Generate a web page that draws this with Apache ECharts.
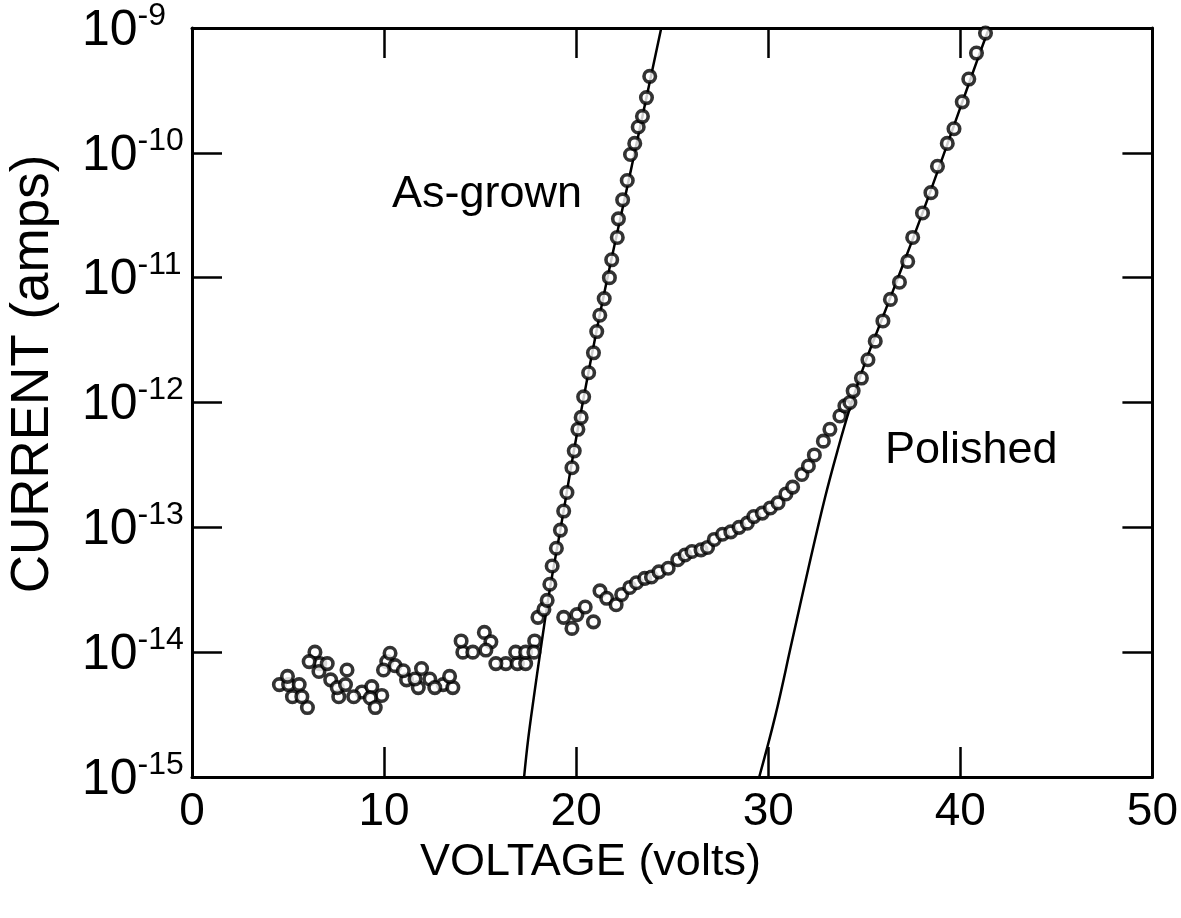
<!DOCTYPE html>
<html>
<head>
<meta charset="utf-8">
<script src="https://cdn.jsdelivr.net/npm/echarts@6/dist/echarts.min.js"></script>
<style>html,body{margin:0;padding:0;background:#fff;}#chart{width:1181px;height:918px;}</style>
</head>
<body>
<div id="chart"></div>
<script>
// ---------- data ----------
const xTicks = [0, 10, 20, 30, 40, 50];
const yTickExponents = ['-15', '-14', '-13', '-12', '-11', '-10', '-9'];

const asGrownV = [4.55, 5.03, 5.58, 6.01, 6.40, 6.65, 7.22, 7.64, 8.07, 8.85, 9.36, 9.88, 10.14, 10.57, 11.17, 11.78, 12.38, 13.07, 13.58, 14.10, 15.22, 15.56, 16.34, 16.94, 17.37, 17.84,
  18.01, 18.32, 18.49, 18.63, 18.75, 18.97, 19.18, 19.35, 19.52, 19.78, 19.90, 20.09, 20.26, 20.39, 20.65, 20.90, 21.07, 21.23, 21.46, 21.73, 21.85, 22.14, 22.20, 22.42, 22.66, 22.83, 23.05, 23.23, 23.45, 23.66, 23.83];
const asGrownI = [5.5e-15, 5.5e-15, 5.5e-15, 3.6e-15, 1.0e-14, 8.1e-15, 6.0e-15, 4.4e-15, 7.2e-15, 4.8e-15, 5.3e-15, 4.5e-15, 8.4e-15, 7.8e-15, 6.0e-15, 5.2e-15, 6.1e-15, 5.5e-15, 5.2e-15, 1.0e-14, 1.44e-14, 1.21e-14, 8.1e-15, 8.1e-15, 8.1e-15, 1.23e-14,
  1.9e-14, 2.2e-14, 2.6e-14, 3.5e-14, 4.9e-14, 6.8e-14, 9.5e-14, 1.35e-13, 1.9e-13, 3.0e-13, 4.1e-13, 6.1e-13, 7.6e-13, 1.11e-12, 1.73e-12, 2.5e-12, 3.7e-12, 5.0e-12, 6.8e-12, 1.0e-11, 1.39e-11, 2.1e-11, 2.96e-11, 4.2e-11, 6.0e-11, 9.7e-11, 1.19e-10, 1.61e-10, 1.96e-10, 2.77e-10, 4.1e-10];

const polishedV = [4.97, 5.23, 5.72, 6.10, 6.61, 7.04, 7.56, 7.99, 8.42, 9.28, 9.54, 9.97, 10.31, 11.00, 11.61, 11.95, 12.64, 13.41, 14.01, 14.62, 15.30, 15.82, 16.85, 17.37, 17.80,
  19.35, 19.78, 20.04, 20.47, 20.90, 21.24, 21.59, 22.08, 22.37, 22.79, 23.14, 23.57, 23.92, 24.31, 24.79, 25.29, 25.67, 26.03, 26.50, 26.84, 27.19, 27.62, 28.05, 28.48, 28.91, 29.25, 29.69, 30.11, 30.51, 30.92, 31.27, 31.75, 32.09, 32.40, 32.87, 33.21, 33.73, 33.99, 34.25, 34.42, 34.85, 35.19, 35.57, 35.97, 36.36, 36.83, 37.26, 37.52, 38.03, 38.47, 38.81, 39.32, 39.67, 40.10, 40.44, 40.84, 41.31];
const polishedI = [6.4e-15, 4.4e-15, 4.4e-15, 8.4e-15, 7.0e-15, 8.1e-15, 5.2e-15, 5.5e-15, 4.4e-15, 4.3e-15, 3.6e-15, 7.2e-15, 9.8e-15, 7.1e-15, 6.1e-15, 7.4e-15, 5.2e-15, 6.4e-15, 1.23e-14, 1.0e-14, 1.04e-14, 8.1e-15, 1.0e-14, 1.0e-14, 1.0e-14,
  1.9e-14, 1.55e-14, 2.0e-14, 2.3e-14, 1.75e-14, 3.1e-14, 2.7e-14, 2.4e-14, 2.9e-14, 3.3e-14, 3.6e-14, 3.9e-14, 4.0e-14, 4.4e-14, 4.7e-14, 5.5e-14, 6.0e-14, 6.4e-14, 6.6e-14, 6.9e-14, 8.0e-14, 8.8e-14, 9.2e-14, 1.0e-13, 1.08e-13, 1.22e-13, 1.30e-13, 1.43e-13, 1.57e-13, 1.85e-13, 2.1e-13, 2.65e-13, 3.1e-13, 3.8e-13, 4.9e-13, 6.1e-13, 7.8e-13, 9.4e-13, 1.0e-12, 1.24e-12, 1.57e-12, 2.2e-12, 3.1e-12, 4.5e-12, 6.7e-12, 9.2e-12, 1.35e-11, 2.1e-11, 3.3e-11, 4.8e-11, 7.8e-11, 1.19e-10, 1.56e-10, 2.56e-10, 3.9e-10, 6.3e-10, 9.1e-10];

const asGrownFitV = [17.29, 17.50, 17.80, 18.15, 18.60, 19.20, 20.04, 21.33, 22.90, 24.43];
const asGrownFitI = [1e-15, 2.0e-15, 4.4e-15, 1.05e-14, 3.0e-14, 1.0e-13, 5.6e-13, 6.0e-12, 7.9e-11, 1e-9];

const polishedFitV = [29.53, 30.37, 31.23, 32.09, 32.95, 33.64, 34.25, 35.00, 36.00, 37.00, 38.00, 39.00, 40.00, 41.00, 41.50];
const polishedFitI = [1e-15, 3.1e-15, 1.21e-14, 4.7e-14, 1.72e-13, 4.3e-13, 9.0e-13, 2.0e-12, 5.0e-12, 1.25e-11, 3.2e-11, 8.5e-11, 2.3e-10, 6.2e-10, 1e-9];

const labels = { asGrown: 'As-grown', polished: 'Polished', xTitle: 'VOLTAGE (volts)', yTitle: 'CURRENT (amps)' };

// ---------- chart ----------
const zip = (a, b) => a.map((v, i) => [v, b[i]]);
const FONT = '"Liberation Sans", Arial, Helvetica, sans-serif';
const chart = echarts.init(document.getElementById('chart'), null, { renderer: 'canvas' });

const expOf = v => Math.round(Math.log10(v));
const yLabelFormatter = v => {
  const e = String(expOf(v));
  const idx = yTickExponents.indexOf(e);
  return idx >= 0 ? '{b|10}{s|' + yTickExponents[idx] + '}' : '';
};

const axisLineStyle = { color: '#000', width: 3 };
const tickStyle = { show: true, inside: true, length: 30, lineStyle: { color: '#000', width: 2.5 } };

const markerStyle = { color: '#fff', borderColor: '#000', borderWidth: 3.6 };

chart.setOption({
  animation: false,
  backgroundColor: '#fff',
  grid: { left: 192, right: 23, top: 26, bottom: 141, containLabel: false },
  xAxis: [
    {
      type: 'value', min: 0, max: 50, interval: 10, position: 'bottom',
      axisLine: { show: true, lineStyle: axisLineStyle },
      axisTick: tickStyle,
      splitLine: { show: false },
      axisLabel: {
        color: '#000', fontFamily: FONT, fontSize: 46, margin: 12,
        formatter: v => xTicks.includes(v) ? String(v) : ''
      }
    },
    {
      type: 'value', min: 0, max: 50, interval: 10, position: 'top',
      axisLine: { show: true, onZero: false, lineStyle: axisLineStyle },
      axisTick: tickStyle, axisLabel: { show: false }, splitLine: { show: false }
    }
  ],
  yAxis: [
    {
      type: 'log', logBase: 10, min: 1e-15, max: 1e-9, position: 'left',
      axisLine: { show: true, lineStyle: axisLineStyle },
      axisTick: tickStyle,
      splitLine: { show: false },
      minorTick: { show: false },
      axisLabel: {
        color: '#000', fontFamily: FONT, margin: 110, align: 'left',
        formatter: yLabelFormatter,
        rich: {
          b: { fontSize: 50, fontFamily: FONT, color: '#000', lineHeight: 56, verticalAlign: 'bottom' },
          s: { fontSize: 32, fontFamily: FONT, color: '#000', lineHeight: 56, verticalAlign: 'top', padding: [0, 0, 26, 0] }
        }
      }
    },
    {
      type: 'log', logBase: 10, min: 1e-15, max: 1e-9, position: 'right',
      axisLine: { show: true, onZero: false, lineStyle: axisLineStyle },
      axisTick: tickStyle, axisLabel: { show: false }, splitLine: { show: false }
    }
  ],
  graphic: [
    { type: 'text', left: 420, top: 840, style: { text: labels.xTitle, font: '45px ' + FONT, fill: '#000' } },
    { type: 'text', x: 33, y: 374, rotation: Math.PI / 2, style: { text: labels.yTitle, font: '53px ' + FONT, fill: '#000', align: 'center', verticalAlign: 'middle' } },
    { type: 'text', left: 392, top: 172, style: { text: labels.asGrown, font: '45px ' + FONT, fill: '#000' } },
    { type: 'text', left: 885, top: 428, style: { text: labels.polished, font: '45px ' + FONT, fill: '#000' } }
  ],
  series: [
    {
      name: 'As-grown fit', type: 'line', xAxisIndex: 0, yAxisIndex: 0,
      data: zip(asGrownFitV, asGrownFitI), showSymbol: false, smooth: 0.4, clip: true,
      lineStyle: { color: '#000', width: 2.5 }, z: 2
    },
    {
      name: 'Polished fit', type: 'line', xAxisIndex: 0, yAxisIndex: 0,
      data: zip(polishedFitV, polishedFitI), showSymbol: false, smooth: 0.4, clip: true,
      lineStyle: { color: '#000', width: 2.5 }, z: 2
    },
    {
      name: 'As-grown', type: 'scatter', xAxisIndex: 0, yAxisIndex: 0,
      data: zip(asGrownV, asGrownI), symbol: 'circle', symbolSize: 11.5,
      itemStyle: markerStyle, z: 3
    },
    {
      name: 'Polished', type: 'scatter', xAxisIndex: 0, yAxisIndex: 0,
      data: zip(polishedV, polishedI), symbol: 'circle', symbolSize: 11.5,
      itemStyle: markerStyle, z: 3
    }
  ]
});
</script>
</body>
</html>
